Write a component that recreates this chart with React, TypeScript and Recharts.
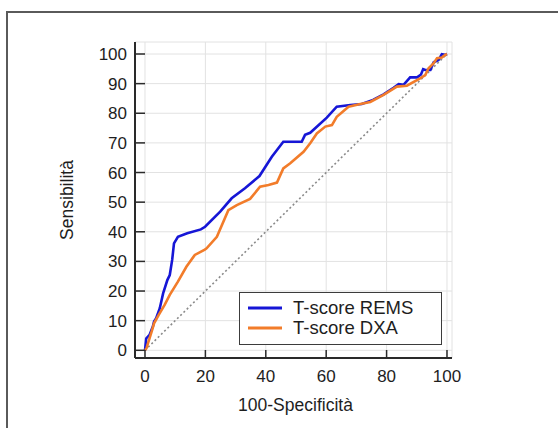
import { CartesianGrid, Line, LineChart, XAxis, YAxis } from "recharts";

// ROC curve points (100-specificity, sensitivity)
const remsFpr = [0, 0.4, 1.5, 2.6, 3, 3.7, 4.9, 6, 7.4, 8.2, 9, 9.6, 10.9, 14, 18.5, 19.9, 24.9, 28.7, 33.1, 37.9, 42, 45.8, 51.9, 53, 54.7, 60.2, 63.5, 68, 71.8, 75.5, 79, 82.3, 84, 85.6, 87.8, 90.1, 91.4, 92.1, 92.8, 94.5, 95.6, 97.2, 98.3, 99.4, 100];
const remsTpr = [0, 4, 5.2, 8, 9.7, 10.8, 14.2, 19.2, 23.7, 25.4, 30.5, 36.1, 38.3, 39.5, 40.8, 41.7, 46.8, 51.3, 54.7, 58.8, 65.3, 70.4, 70.4, 72.7, 73.4, 78.5, 82.2, 82.8, 83.1, 84.5, 86.4, 88.6, 89.8, 89.6, 92.1, 92.1, 93.1, 94.9, 94.6, 94.6, 97.2, 98, 99.9, 99.7, 100];

const dxaFpr = [0, 0.5, 1, 1.5, 2.2, 3, 4.5, 6.5, 8.2, 10.9, 13.7, 16.5, 19.8, 20.4, 23.8, 27.6, 30.4, 34.8, 38.1, 40.9, 43.7, 45.8, 48.1, 52.5, 54.7, 56.9, 59.7, 61.9, 63.5, 67.4, 71.3, 74.6, 79, 83.4, 86.7, 91.1, 92.8, 93.9, 95.6, 96.7, 98.3, 99.4, 100];
const dxaTpr = [0, 0.7, 2.4, 4, 6.3, 9.1, 11.9, 15.3, 18.7, 23.2, 28.2, 32.2, 34, 34.4, 38.3, 47.3, 49, 51.1, 55.2, 55.8, 56.6, 61.4, 63.1, 67, 69.9, 73.2, 75.5, 76, 78.8, 82.2, 83.1, 83.8, 86.2, 89, 89.3, 91.8, 92.9, 95.2, 96.9, 98.6, 98.8, 99.7, 100];

const chanceFpr = [0, 100];
const chanceTpr = [0, 100];

const xTicks = [0, 20, 40, 60, 80, 100];
const yTicks = [0, 10, 20, 30, 40, 50, 60, 70, 80, 90, 100];

const seriesNames = ["T-score REMS", "T-score DXA"];
const seriesColors = ["#1616d6", "#f27c2a"];

const toPoints = (xs: number[], ys: number[]) => xs.map((x, i) => ({ x, y: ys[i] }));

const remsData = toPoints(remsFpr, remsTpr);
const dxaData = toPoints(dxaFpr, dxaTpr);
const chanceData = toPoints(chanceFpr, chanceTpr);

const FONT = "'Liberation Sans', Arial, sans-serif";
const TEXT = "#1e1e1e";
const AXIS = "#2a2a2a";

function YTick(props: any) {
  const { x, y, payload } = props;
  return (
    <g>
      <line x1={x} x2={x + 10} y1={y} y2={y} stroke={AXIS} strokeWidth={1.5} />
      <text x={x - 8} y={y} dy={6} textAnchor="end" fontSize={17} fontFamily={FONT} fill={TEXT}>
        {payload.value}
      </text>
    </g>
  );
}

function XTick(props: any) {
  const { x, y, payload } = props;
  return (
    <g>
      <line x1={x} x2={x} y1={y} y2={y - 8} stroke={AXIS} strokeWidth={1.5} />
      <text x={x} y={y + 24} textAnchor="middle" fontSize={17} fontFamily={FONT} fill={TEXT}>
        {payload.value}
      </text>
    </g>
  );
}

// legend drawn as an overlay so it doesn't shrink the plot area
function LegendBox() {
  return (
    <div
      style={{
        position: "absolute",
        left: 239,
        top: 292,
        width: 203,
        height: 53,
        boxSizing: "border-box",
        border: "1.5px solid #3c3c3c",
        background: "#fff",
        fontFamily: FONT,
        fontSize: 18.5,
        color: TEXT,
        paddingTop: 5,
      }}
    >
      {seriesNames.map((name, i) => (
        <div key={name} style={{ display: "flex", alignItems: "center", height: 20 }}>
          <svg width={53} height={20}>
            <line x1={8} x2={42} y1={10} y2={10} stroke={seriesColors[i]} strokeWidth={3} />
          </svg>
          <span>{name}</span>
        </div>
      ))}
    </div>
  );
}

export default function App() {
  return (
    <div style={{ position: "absolute", left: 0, top: 0, width: 558, height: 428, background: "#fff", overflow: "hidden" }}>
      <div
        style={{
          position: "absolute",
          left: 6,
          top: 11,
          width: 560,
          height: 430,
          borderTop: "2px solid #5a5a5a",
          borderLeft: "2px solid #5a5a5a",
        }}
      />
      <LineChart
        width={558}
        height={428}
        margin={{ top: 42, right: 106, bottom: 0, left: 0 }}
        style={{ position: "absolute", left: 0, top: 0 }}
      >
        <CartesianGrid stroke="#e2e2e2" strokeWidth={1} />
        <XAxis
          type="number"
          dataKey="x"
          domain={[-3.31, 101.66]}
          ticks={xTicks}
          allowDataOverflow
          height={70}
          tickSize={0}
          tickMargin={0}
          tickLine={false}
          tick={<XTick />}
          axisLine={{ stroke: AXIS, strokeWidth: 2 }}
          label={{ value: "100-Specificità", position: "center", dx: 2, dy: 12, fontSize: 17.5, fontFamily: FONT, fill: TEXT }}
        />
        <YAxis
          type="number"
          dataKey="y"
          domain={[-2.6, 104.05]}
          ticks={yTicks}
          allowDataOverflow
          width={135}
          tickSize={0}
          tickMargin={0}
          tickLine={false}
          tick={<YTick />}
          axisLine={{ stroke: AXIS, strokeWidth: 2 }}
          label={{ value: "Sensibilità", position: "center", angle: -90, dx: -1, fontSize: 17.5, fontFamily: FONT, fill: TEXT }}
        />
        <Line
          data={chanceData}
          dataKey="y"
          stroke="#8a8a8a"
          strokeWidth={1.6}
          strokeDasharray="2 2.5"
          dot={false}
          activeDot={false}
          isAnimationActive={false}
        />
        <Line
          data={remsData}
          dataKey="y"
          name={seriesNames[0]}
          stroke={seriesColors[0]}
          strokeWidth={2.6}
          dot={false}
          isAnimationActive={false}
        />
        <Line
          data={dxaData}
          dataKey="y"
          name={seriesNames[1]}
          stroke={seriesColors[1]}
          strokeWidth={2.6}
          dot={false}
          isAnimationActive={false}
        />
      </LineChart>
      <LegendBox />
    </div>
  );
}
